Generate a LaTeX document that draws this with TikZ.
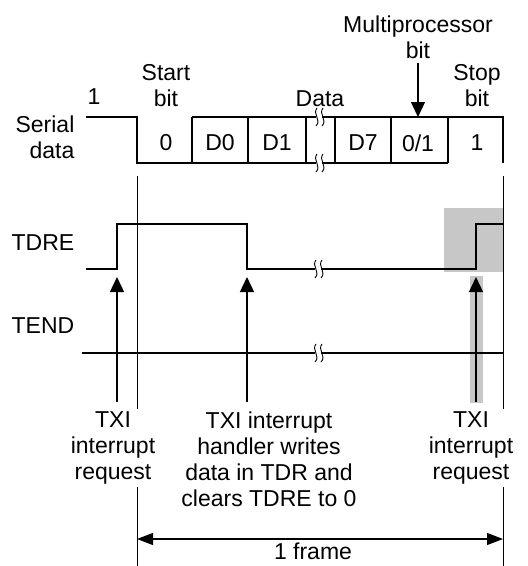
\documentclass[tikz,border=0pt]{standalone}
\usepackage{fontspec}
\setmainfont{Liberation Sans}
\usetikzlibrary{arrows.meta,positioning}

\begin{document}
\begin{tikzpicture}[x=1pt, y=-1pt,
        lbl/.style={inner sep=0pt, align=center, font=\fontsize{23}{26}\selectfont},
        sig/.style={line width=1.8pt},
        boxline/.style={line width=1.3pt},
        frameline/.style={line width=1pt},
        req/.style={line width=1.3pt, -{Triangle[length=15pt,width=14pt]}},
        span/.style={line width=1.2pt, {Triangle[length=16pt,width=12pt]}-{Triangle[length=16pt,width=12pt]}},
        shade/.style={fill=black!22, draw=none},
        brk/.pic={
            \fill[white] (-3,-4) rectangle (3,4);
            \draw[line width=0.9pt] (-2,-9) .. controls (-7,-3) and (3,3) .. (-3,9);
            \draw[line width=0.9pt] (4,-9) .. controls (-1,-3) and (9,3) .. (3,9);
        }
    ]
    \useasboundingbox (0,0) rectangle (528,566);
    % Markierung
    \fill[shade] (444,208) rectangle (503,272);
    \fill[shade] (470,276) rectangle (483,403);
    % Rahmen
    \draw[frameline] (137,176) -- (137,566);
    \draw[frameline] (503,176) -- (503,566);
    % Serielle Daten
    \draw[boxline] (86,117) -- (137,117) -- (137,163) -- (448,163);
    \draw[boxline] (192,117) -- (503,117) -- (503,163);
    \foreach \x in {192,248,306,335,391,448}
        \draw[boxline] (\x,117) -- (\x,163);
    \pic at (319,117) {brk};
    \pic at (319,163) {brk};
    % TDRE
    \draw[sig] (86,269) -- (117,269) -- (117,224) -- (247,224) -- (247,269) -- (476,269) -- (476,224) -- (503,224);
    \pic at (318,269) {brk};
    % TEND
    \draw[boxline] (82,353) -- (503,353);
    \pic at (318,353) {brk};
    % Beschriftungen
    \node[lbl] (one) at (94,97) {1};
    \node[lbl] (start) at (166,86) {Start\\bit};
    \node[lbl] (data) at (320,99) {Data};
    \node[lbl] (mpb) at (418,37) {Multiprocessor\\bit};
    \node[lbl] (stop) at (477,86) {Stop\\bit};
    \node[lbl, align=right] (serial) at (45,137) {Serial\\data};
    \node[lbl] (b0) at (166,143) {0};
    \node[lbl] (bd0) at (220,143) {D0};
    \node[lbl] (bd1) at (277,143) {D1};
    \node[lbl] (bd7) at (363,143) {D7};
    \node[lbl] (bmp) at (418,143) {0/1};
    \node[lbl] (bstop) at (477,143) {1};
    \node[lbl] (tdre) at (43,243) {TDRE};
    \node[lbl] (tend) at (43,326) {TEND};
    \node[lbl, fill=white, inner ysep=3pt] (txi1) at (113,448) {TXI\\interrupt\\request};
    \node[lbl] (handler) at (269,459) {TXI interrupt\\handler writes\\data in TDR and\\clears TDRE to 0};
    \node[lbl, fill=white, inner ysep=3pt] (txi2) at (471,448) {TXI\\interrupt\\request};
    \node[lbl] (frame) at (313,551) {1 frame};
    % Pfeile
    \coordinate (a1) at (117,402);
    \coordinate (t1) at (117,277);
    \coordinate (a2) at (247,402);
    \coordinate (t2) at (247,277);
    \coordinate (a3) at (476,402);
    \coordinate (t3) at (476,277);
    \coordinate (m1) at (418,63);
    \coordinate (m2) at (418,117);
    \coordinate (f1) at (137,539);
    \coordinate (f2) at (503,539);
    \draw[req] (a1) -- (t1);
    \draw[req] (a2) -- (t2);
    \draw[req] (a3) -- (t3);
    \draw[req] (m1) -- (m2);
    \draw[span] (f1) -- (f2);
\end{tikzpicture}
\end{document}
